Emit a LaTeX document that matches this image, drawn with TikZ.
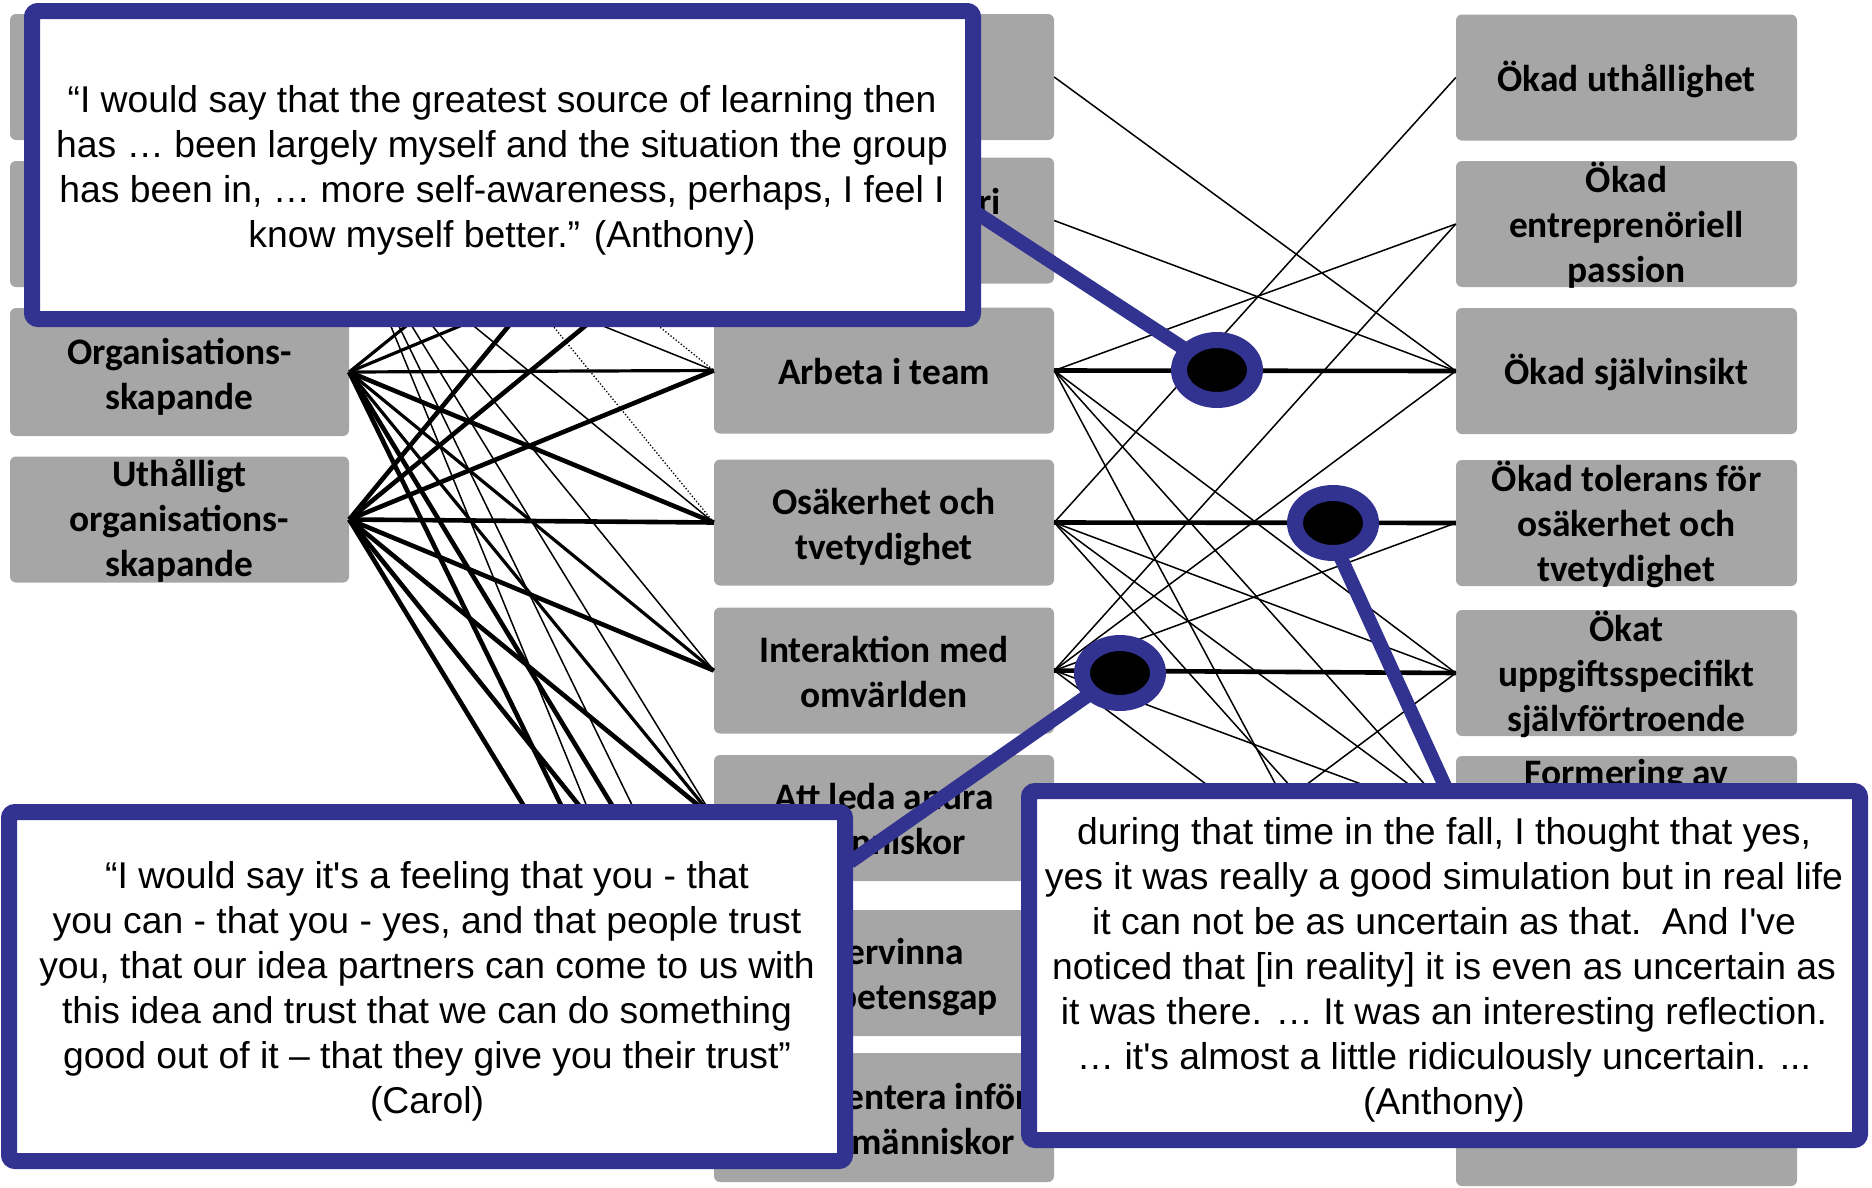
\documentclass[tikz,border=0pt]{standalone}
\usepackage{fontspec}
\newfontfamily\boxfont{Carlito}
\newfontfamily\qfont{Liberation Sans}[Ligatures=TeXOff]
\definecolor{boxgray}{RGB}{166,166,166}
\definecolor{navyq}{RGB}{50,50,145}
\tikzset{
  btext/.style={inner sep=0pt, font=\boxfont\bfseries\fontsize{37.4}{45}\selectfont, align=center},
  gbox/.style={fill=boxgray, rounded corners=6pt, minimum height=126pt, inner sep=0pt},
  tx/.style={label={[btext, yshift=-1.5pt]center:#1}},
  txlow/.style={label={[btext, yshift=-5pt]center:#1}},
  lbox/.style={gbox, minimum width=339pt},
  mbox/.style={gbox, minimum width=340pt},
  rbox/.style={gbox, minimum width=341pt},
  qbox/.style={draw=navyq, fill=white, line width=16pt, rounded corners=6pt},
  qtext/.style={inner sep=0pt, font=\qfont\fontsize{37.3}{45}\selectfont, align=center},
  wA/.style={line width=4.6pt},
  wB/.style={line width=3.2pt},
  wC/.style={line width=1.5pt},
  wD/.style={line width=1.3pt, dotted},
  callout/.style={draw=navyq, line width=14pt},
  dot/.style={draw=navyq, fill=black, line width=16pt}
}
\begin{document}
\begin{tikzpicture}[x=1pt,y=-1pt]
\useasboundingbox (0,0) rectangle (1872,1187);
% left column
\node[lbox] (L1) at (179.5,77) {};
\node[lbox] (L2) at (179.5,224) {};
\node[lbox, minimum height=128pt, txlow={Organisations-\\skapande}] (L3) at (179.5,372) {};
\node[lbox, tx={Uthålligt\\organisations-\\skapande}] (L4) at (179.5,519.5) {};
% middle column
\node[mbox] (M1) at (884,77) {};
\node[mbox] (M2) at (884,220.5) {};
\node[mbox, tx={Arbeta i team}] (M3) at (884,370.5) {};
\node[mbox, txlow={Osäkerhet och\\tvetydighet}] (M4) at (884,522.5) {};
\node[mbox, tx={Interaktion med\\omvärlden}] (M5) at (884,670.5) {};
\node[mbox, tx={Att leda andra\\människor}] (M6) at (884,818) {};
\node[mbox, tx={Övervinna\\kompetensgap}] (M7) at (884,973) {};
\node[mbox, minimum height=129pt, tx={\hspace*{40pt}Presentera inför\\andra människor}] (M8) at (884,1117.5) {};
\node[btext, anchor=east] (M2t) at (1001,201) {ri};
% right column
\node[rbox, tx={Ökad uthållighet}] (R1) at (1626.5,77.5) {};
\node[rbox, tx={Ökad\\entreprenöriell\\passion}] (R2) at (1626.5,224) {};
\node[rbox, tx={Ökad självinsikt}] (R3) at (1626.5,371) {};
\node[rbox, tx={Ökad tolerans för\\osäkerhet och\\tvetydighet}] (R4) at (1626.5,523) {};
\node[rbox, tx={Ökat\\uppgiftsspecifikt\\självförtroende}] (R5) at (1626.5,673) {};
\node[rbox] (R6) at (1626.5,819) {};
\node[btext] (R6t) at (1626.5,776) {Formering av};
\node[rbox] (R7) at (1626.5,971) {};
\node[rbox, minimum height=130pt] (R8) at (1626.5,1121) {};
% left -> middle connectors
\draw[wD] (L1.east) -- (M3.west);
\draw[wD] (L1.east) -- (M4.west);
\draw[wC] (L2.east) -- (M3.west);
\draw[wC] (L2.east) -- (M4.west);
\draw[wC] (L2.east) -- (M5.west);
\draw[wC] (L2.east) -- (M6.west);
\draw[wC] (L2.east) -- (M7.west);
\draw[wC] (L2.east) -- (M8.west);
\draw[wB] (L3.east) -- (M1.west);
\draw[wB] (L3.east) -- (M2.west);
\draw[wB] (L3.east) -- (M3.west);
\draw[wA] (L3.east) -- (M4.west);
\draw[wB] (L3.east) -- (M5.west);
\draw[wB] (L3.east) -- (M6.west);
\draw[wA] (L3.east) -- (M7.west);
\draw[wA] (L3.east) -- (M8.west);
\draw[wA] (L4.east) -- (M1.west);
\draw[wA] (L4.east) -- (M2.west);
\draw[wA] (L4.east) -- (M3.west);
\draw[wA] (L4.east) -- (M4.west);
\draw[wA] (L4.east) -- (M5.west);
\draw[wA] (L4.east) -- (M6.west);
\draw[wA] (L4.east) -- (M7.west);
\draw[wA] (L4.east) -- (M8.west);
% middle -> right connectors
\draw[wC] (M1.east) -- (R3.west);
\draw[wC] (M2.east) -- (R3.west);
\draw[wC] (M4.east) -- (R1.west);
\draw[wC] (M3.east) -- (R2.west);
\draw[wC] (M5.east) -- (R2.west);
\draw[wA] (M3.east) -- (R3.west);
\draw[wA] (M4.east) -- (R4.west);
\draw[wA] (M5.east) -- (R5.west);
\draw[wC] (M5.east) -- (R3.west);
\draw[wC] (M5.east) -- (R4.west);
\draw[wC] (M3.east) -- (R5.west);
\draw[wC] (M4.east) -- (R5.west);
\draw[wC] (M3.east) -- (R6.west);
\draw[wC] (M4.east) -- (R6.west);
\draw[wC] (M5.east) -- (R6.west);
\draw[wC] (M5.east) -- (R7.west);
\draw[wC] (M7.east) -- (R5.west);
\draw[wC] (M3.east) -- (R8.west);
\draw[wC] (M4.east) -- (R7.west);
% callouts
\coordinate (C1) at (1217,370);
\coordinate (C2) at (1333,523);
\coordinate (C3) at (1120,673);
\coordinate (C2b) at (1325,523);
\coordinate (Q1p) at (975,212);
\coordinate (Q3p) at (1445,786);
\coordinate (Q2p) at (850,862);
\draw[callout] (Q1p) -- (C1);
\draw[callout] (Q3p) -- (C2b);
\draw[callout] (Q2p) -- (C3);
\draw[dot] (C1) ellipse [x radius=38pt, y radius=30pt];
\draw[dot] (C2) ellipse [x radius=38pt, y radius=30pt];
\draw[dot] (C3) ellipse [x radius=38pt, y radius=30pt];
% quote boxes
\draw[qbox] (32,11) rectangle (973,319);
\node[qtext] (Q1) at (502,170) {“I would say that the greatest source of learning then\\has … been largely myself and the situation the group\\has been in, … more self-awareness, perhaps, I feel I\\know myself better.” (Anthony)};
\draw[qbox] (9,812) rectangle (845,1161);
\node[qtext] (Q2) at (427,991) {“I would say it's a feeling that you - that\\you can - that you - yes, and that people trust\\you, that our idea partners can come to us with\\this idea and trust that we can do something\\good out of it – that they give you their trust”\\(Carol)};
\draw[qbox] (1029,791) rectangle (1860,1140);
\node[qtext] (Q3) at (1444,970) {during that time in the fall, I thought that yes,\\yes it was really a good simulation but in real life\\it can not be as uncertain as that.\ \ And I've\\noticed that [in reality] it is even as uncertain as\\it was there. … It was an interesting reflection.\\… it's almost a little ridiculously uncertain. ...\\(Anthony)};
\end{tikzpicture}
\end{document}
